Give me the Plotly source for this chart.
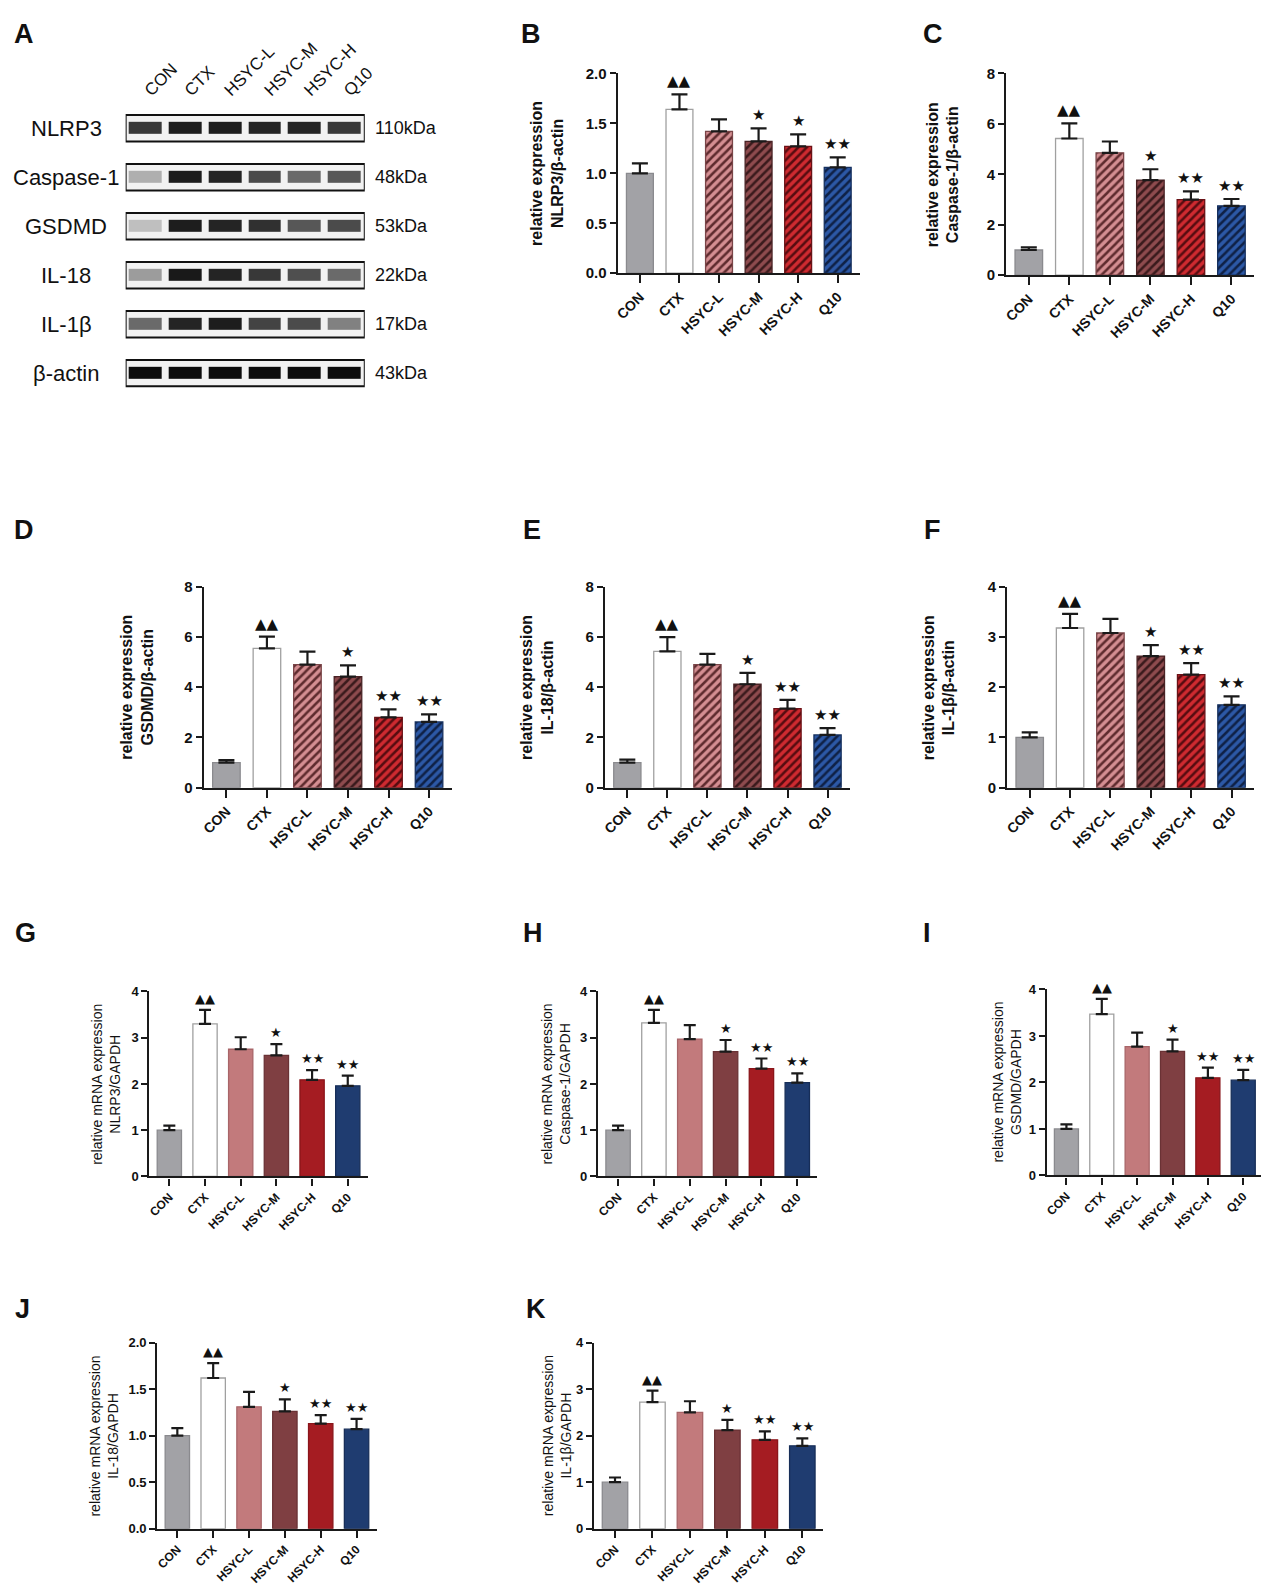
import plotly.graph_objects as go

W, H = 1269, 1588
FONT = "Liberation Sans, Arial, sans-serif"

groups = ["CON", "CTX", "HSYC-L", "HSYC-M", "HSYC-H", "Q10"]

# Western blot (panel A)
proteins = ["NLRP3", "Caspase-1", "GSDMD", "IL-18", "IL-1β", "β-actin"]
kda = ["110kDa", "48kDa", "53kDa", "22kDa", "17kDa", "43kDa"]
band_intensity = [
    [0.78, 0.92, 0.92, 0.88, 0.88, 0.78],
    [0.22, 0.92, 0.88, 0.68, 0.52, 0.62],
    [0.15, 0.92, 0.88, 0.82, 0.62, 0.68],
    [0.30, 0.94, 0.88, 0.78, 0.66, 0.52],
    [0.52, 0.88, 0.92, 0.72, 0.68, 0.42],
    [1.00, 1.00, 1.00, 1.00, 1.00, 1.00],
]

# Protein level panels
b_mean = [1.00, 1.64, 1.42, 1.32, 1.27, 1.06]
b_err = [0.10, 0.15, 0.12, 0.13, 0.12, 0.10]
b_sig = ["", "▲▲", "", "★", "★", "★★"]

c_mean = [1.00, 5.42, 4.85, 3.77, 3.00, 2.75]
c_err = [0.10, 0.60, 0.45, 0.43, 0.32, 0.27]
c_sig = ["", "▲▲", "", "★", "★★", "★★"]

d_mean = [1.00, 5.55, 4.90, 4.42, 2.80, 2.62]
d_err = [0.10, 0.47, 0.52, 0.45, 0.32, 0.30]
d_sig = ["", "▲▲", "", "★", "★★", "★★"]

e_mean = [1.00, 5.43, 4.90, 4.12, 3.15, 2.10]
e_err = [0.12, 0.57, 0.43, 0.45, 0.35, 0.27]
e_sig = ["", "▲▲", "", "★", "★★", "★★"]

f_mean = [1.00, 3.18, 3.08, 2.62, 2.25, 1.65]
f_err = [0.10, 0.28, 0.28, 0.22, 0.23, 0.17]
f_sig = ["", "▲▲", "", "★", "★★", "★★"]

# mRNA panels
g_mean = [1.00, 3.30, 2.75, 2.62, 2.09, 1.96]
g_err = [0.10, 0.30, 0.26, 0.24, 0.21, 0.22]
g_sig = ["", "▲▲", "", "★", "★★", "★★"]

h_mean = [1.00, 3.32, 2.97, 2.70, 2.33, 2.03]
h_err = [0.10, 0.28, 0.30, 0.25, 0.22, 0.20]
h_sig = ["", "▲▲", "", "★", "★★", "★★"]

i_mean = [1.00, 3.47, 2.77, 2.67, 2.10, 2.05]
i_err = [0.10, 0.33, 0.30, 0.25, 0.22, 0.22]
i_sig = ["", "▲▲", "", "★", "★★", "★★"]

j_mean = [1.00, 1.62, 1.31, 1.26, 1.13, 1.07]
j_err = [0.08, 0.16, 0.16, 0.13, 0.09, 0.11]
j_sig = ["", "▲▲", "", "★", "★★", "★★"]

k_mean = [1.00, 2.72, 2.50, 2.12, 1.91, 1.78]
k_err = [0.10, 0.25, 0.24, 0.22, 0.18, 0.16]
k_sig = ["", "▲▲", "", "★", "★★", "★★"]

# colours
solid_colors = ["#A2A2A6", "#FFFFFF", "#C27A7C", "#7F3F42", "#A51C22", "#1F3C70"]
solid_lines = ["#8A8A8E", "#A0A0A0", "#A86568", "#6A3235", "#8A151A", "#172E58"]
hatch_bg = ["#A2A2A6", "#FFFFFF", "#D48E92", "#8E4B4E", "#CF2A30", "#2C58A6"]
hatch_fg = ["#A2A2A6", "#FFFFFF", "#5E2B2E", "#3A1A1C", "#560C10", "#0F2146"]
hatch_line = ["#8A8A8E", "#A0A0A0", "#7A4548", "#4A2325", "#6A1216", "#16305E"]
hatch_shape = ["", "", "/", "/", "/", "/"]

fig = go.Figure()
annotations = []
shapes = []
layout = {}


def px_dom_x(a, b):
    return [a / W, b / W]


def px_dom_y(top, bottom):
    return [1 - bottom / H, 1 - top / H]


# ---------- Panel A : blot ----------
fig.add_trace(go.Heatmap(
    z=band_intensity, x=list(range(6)), y=list(range(6)),
    colorscale=[[0, "#e2e2e2"], [0.5, "#6e6e6e"], [1, "#0d0d0d"]],
    zmin=0, zmax=1, showscale=False, xgap=7, ygap=37,
    xaxis="x", yaxis="y", hoverinfo="skip"))
layout["xaxis"] = dict(domain=px_dom_x(115, 357), range=[-0.5, 5.5], side="top",
                       tickvals=list(range(6)), ticktext=groups, tickangle=-45,
                       showgrid=False, zeroline=False, showline=False, ticks="",
                       tickfont=dict(family=FONT, size=17, color="#111"), anchor="y")
layout["yaxis"] = dict(domain=px_dom_y(87.75, 384.75), range=[5.5, -0.5],
                       showticklabels=False, showgrid=False, zeroline=False,
                       showline=False, ticks="", anchor="x")
for r in range(len(proteins)):
    shapes.append(dict(type="rect", xref="x", yref="y", x0=-0.5, x1=5.5,
                       y0=r - 0.27, y1=r + 0.27, line=dict(color="#111", width=2),
                       fillcolor="#f2f2f2", layer="below"))
    annotations.append(dict(xref="paper", yref="y", x=55 / W, y=r, text=proteins[r],
                            showarrow=False, xanchor="center", yanchor="middle",
                            font=dict(family=FONT, size=22, color="#111")))
    annotations.append(dict(xref="paper", yref="y", x=365 / W, y=r, text=kda[r],
                            showarrow=False, xanchor="left", yanchor="middle",
                            font=dict(family=FONT, size=18, color="#111")))

# ---------- bar panels ----------
panels = [
    # letter, mean, err, sig, ymax, dtick, fmt, title, box(l,r,t,b), hatched, title_x
    ("B", b_mean, b_err, b_sig, 2.0, 0.5, ".1f", "relative expression<br>NLRP3/β-actin", (613, 858, 57, 259), True, 542),
    ("C", c_mean, c_err, c_sig, 8, 2, "d", "relative expression<br>Caspase-1/β-actin", (1006, 1257, 57, 261), True, 942),
    ("D", d_mean, d_err, d_sig, 8, 2, "d", "relative expression<br>GSDMD/β-actin", (194, 445, 576, 779), True, 127),
    ("E", e_mean, e_err, e_sig, 8, 2, "d", "relative expression<br>IL-18/β-actin", (600, 848, 576, 779), True, 532),
    ("F", f_mean, f_err, f_sig, 4, 1, "d", "relative expression<br>IL-1β/β-actin", (1007, 1257, 576, 779), True, 938),
    ("G", g_mean, g_err, g_sig, 4, 1, "d", "relative mRNA expression<br>NLRP3/GAPDH", (139, 360, 985, 1172), False, 95),
    ("H", h_mean, h_err, h_sig, 4, 1, "d", "relative mRNA expression<br>Caspase-1/GAPDH", (593, 815, 985, 1172), False, 550),
    ("I", i_mean, i_err, i_sig, 4, 1, "d", "relative mRNA expression<br>GSDMD/GAPDH", (1047, 1266, 983, 1171), False, 1007),
    ("J", j_mean, j_err, j_sig, 2.0, 0.5, ".1f", "relative mRNA expression<br>IL-18/GAPDH", (147, 369, 1340, 1528), False, 93),
    ("K", k_mean, k_err, k_sig, 4, 1, "d", "relative mRNA expression<br>IL-1β/GAPDH", (589, 821, 1340, 1528), False, 551),
]

for idx, (letter, mean, err, sig, ymax, dtick, fmt, title, box, hatched, tx) in enumerate(panels):
    n = idx + 2
    xa, ya = f"x{n}", f"y{n}"
    l, r, t, b = box
    big = hatched
    for k in range(6):
        if hatched:
            marker = dict(color=hatch_bg[k], line=dict(color=hatch_line[k], width=1.3))
            if hatch_shape[k]:
                marker["pattern"] = dict(shape=hatch_shape[k], fgcolor=hatch_fg[k],
                                         bgcolor=hatch_bg[k], fgopacity=1, size=6,
                                         solidity=0.42, fillmode="overlay")
        else:
            marker = dict(color=solid_colors[k], line=dict(color=solid_lines[k], width=1.3))
        fig.add_trace(go.Bar(
            x=[k], y=[mean[k]], width=0.68, marker=marker,
            error_y=dict(type="data", array=[err[k]], arrayminus=[0], symmetric=False,
                         color="#1a1a1a", thickness=2.2, width=8 if big else 6),
            xaxis=xa, yaxis=ya, showlegend=False, hoverinfo="skip"))
    layout[f"xaxis{n}"] = dict(
        domain=px_dom_x(l, r), range=[-0.56, 5.56], anchor=ya,
        tickvals=list(range(6)), ticktext=groups, tickangle=-45,
        showline=True, linecolor="#1a1a1a", linewidth=2.2,
        ticks="outside", ticklen=8 if big else 7, tickwidth=2.2, tickcolor="#1a1a1a",
        showgrid=False, zeroline=False,
        tickfont=dict(family=FONT, size=14 if big else 12, color="#111", weight="bold"))
    layout[f"yaxis{n}"] = dict(
        domain=px_dom_y(t, b), range=[0, ymax], anchor=xa, dtick=dtick, tick0=0,
        tickformat=fmt, showline=True, linecolor="#1a1a1a", linewidth=2.2,
        ticks="outside", ticklen=6, tickwidth=2.2, tickcolor="#1a1a1a",
        showgrid=False, zeroline=False,
        tickfont=dict(family=FONT, size=15 if big else 13, color="#111", weight="bold"))
    # significance markers
    for k in range(6):
        if sig[k]:
            annotations.append(dict(xref=xa, yref=ya, x=k, y=mean[k] + err[k], text=sig[k],
                                    showarrow=False, xanchor="center", yanchor="bottom",
                                    yshift=2, font=dict(family="DejaVu Sans", size=15 if big else 13, color="#111")))
    # y title
    ttext = ("<b>" + title.replace("<br>", "</b><br><b>") + "</b>") if big else title
    annotations.append(dict(xref="paper", yref="paper", x=tx / W, y=1 - ((t + b) / 2) / H,
                            text=ttext, textangle=-90, showarrow=False,
                            xanchor="center", yanchor="middle",
                            font=dict(family=FONT, size=16 if big else 14, color="#111")))

# panel letters
letters = [("A", 0, 0), ("B", 513, 0), ("C", 920, 0), ("D", 0, 501), ("E", 515, 501),
           ("F", 921, 501), ("G", 1, 909), ("H", 515, 909), ("I", 920, 909),
           ("J", 1, 1289), ("K", 518, 1289)]
for lt, lx, ly in letters:
    annotations.append(dict(xref="paper", yref="paper", x=lx / W, y=1 - ly / H, text="<b>" + lt + "</b>",
                            showarrow=False, xanchor="left", yanchor="top",
                            font=dict(family=FONT, size=27, color="#111")))

fig.update_layout(width=W, height=H, margin=dict(l=0, r=0, t=0, b=0),
                  paper_bgcolor="white", plot_bgcolor="white", barmode="overlay",
                  annotations=annotations, shapes=shapes, showlegend=False, **layout)

fig.write_html("out.html")
